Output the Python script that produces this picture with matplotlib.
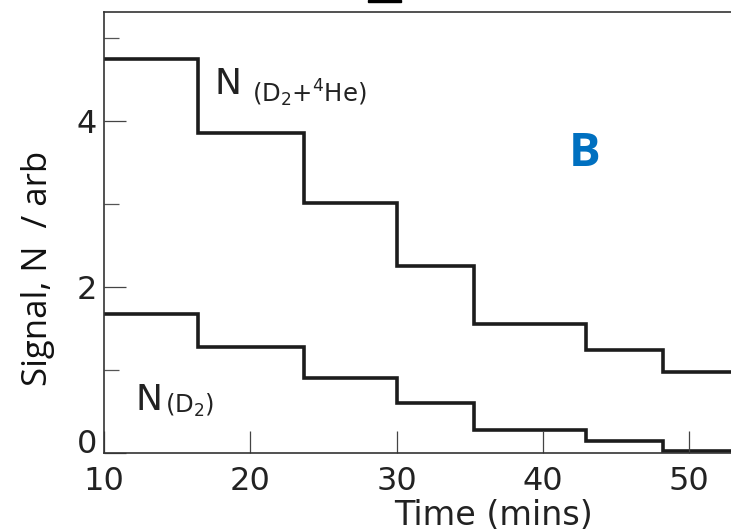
import matplotlib
matplotlib.use("Agg")
import matplotlib.pyplot as plt
from matplotlib.patches import Rectangle

plt.rcParams['font.family'] = ['DejaVu Sans']
plt.rcParams['mathtext.fontset'] = 'dejavusans'

# step edges (minutes) and signal levels
time_edges = [10, 16.45, 23.7, 30.0, 35.3, 42.95, 48.2, 56]
signal_d2_he = [4.75, 3.85, 3.01, 2.25, 1.56, 1.24, 0.98]
signal_d2 = [1.68, 1.28, 0.90, 0.60, 0.28, 0.14, 0.02]

x_ticks = [10, 20, 30, 40, 50]
y_major = [0, 2, 4]
y_minor = [1, 3, 5]

W, H = 731, 531
fig = plt.figure(figsize=(W / 100, H / 100), dpi=100)

left_px, bottom_px, top_px = 104, 453, 12
ax = fig.add_axes([left_px / W, (H - bottom_px) / H,
                   (W - left_px) / W, (bottom_px - top_px) / H])

line_col = '#1c1c1c'
ax.stairs(signal_d2_he, time_edges, baseline=None, color=line_col, lw=2.6)
ax.stairs(signal_d2, time_edges, baseline=None, color=line_col, lw=2.6)

ax.set_xlim(10, 10 + (W - left_px) / 14.63)
ax.set_ylim(0, (bottom_px - top_px) / 83.0)

ax.set_xticks(x_ticks)
ax.set_yticks(y_major)
ax.set_yticks(y_minor, minor=True)
ax.tick_params(axis='both', which='major', direction='in', length=16,
               width=0.9, color='#444444', labelsize=23, labelcolor='#222222')
ax.tick_params(axis='x', which='major', pad=9)
ax.tick_params(axis='y', which='major', pad=5)
ax.tick_params(axis='y', which='minor', direction='in', length=11,
               width=0.9, color='#555555')
# the "0" label sits just above the corner
ax.yaxis.get_major_ticks()[0].label1.set_va('baseline')

for side in ['left', 'bottom', 'top']:
    ax.spines[side].set_linewidth(1.2)
    ax.spines[side].set_color('#333333')
ax.spines['right'].set_visible(False)

# labels on the steps
ax.text(17.52, 4.33, 'N', fontsize=26, color='#222222', va='baseline')
ax.text(20.12, 4.22, r'(D$_2$+$^4$He)', fontsize=17.5, color='#222222', va='baseline')
ax.text(12.12, 0.52, 'N', fontsize=26, color='#222222', va='baseline')
ax.text(14.17, 0.48, r'(D$_2$)', fontsize=17.5, color='#222222', va='baseline')

ax.text(41.78, 3.46, 'B', fontsize=34, fontweight='bold', color='#0070C0',
        family='Open Sans', va='baseline')

fig.text(494 / W, 1 - 525 / H, 'Time (mins)', fontsize=24, color='#222222',
         ha='center', va='baseline')
fig.text(38 / W, 1 - 268 / H, 'Signal, N  / arb', fontsize=25, color='#111111',
         family='Open Sans', rotation=90, ha='center', va='center')

# cut-off mark at the top edge
fig.add_artist(Rectangle((368 / W, 1 - 2 / H), 33 / W, 2 / H,
                         transform=fig.transFigure, color='black'))

fig.savefig('out.png', dpi=100)
